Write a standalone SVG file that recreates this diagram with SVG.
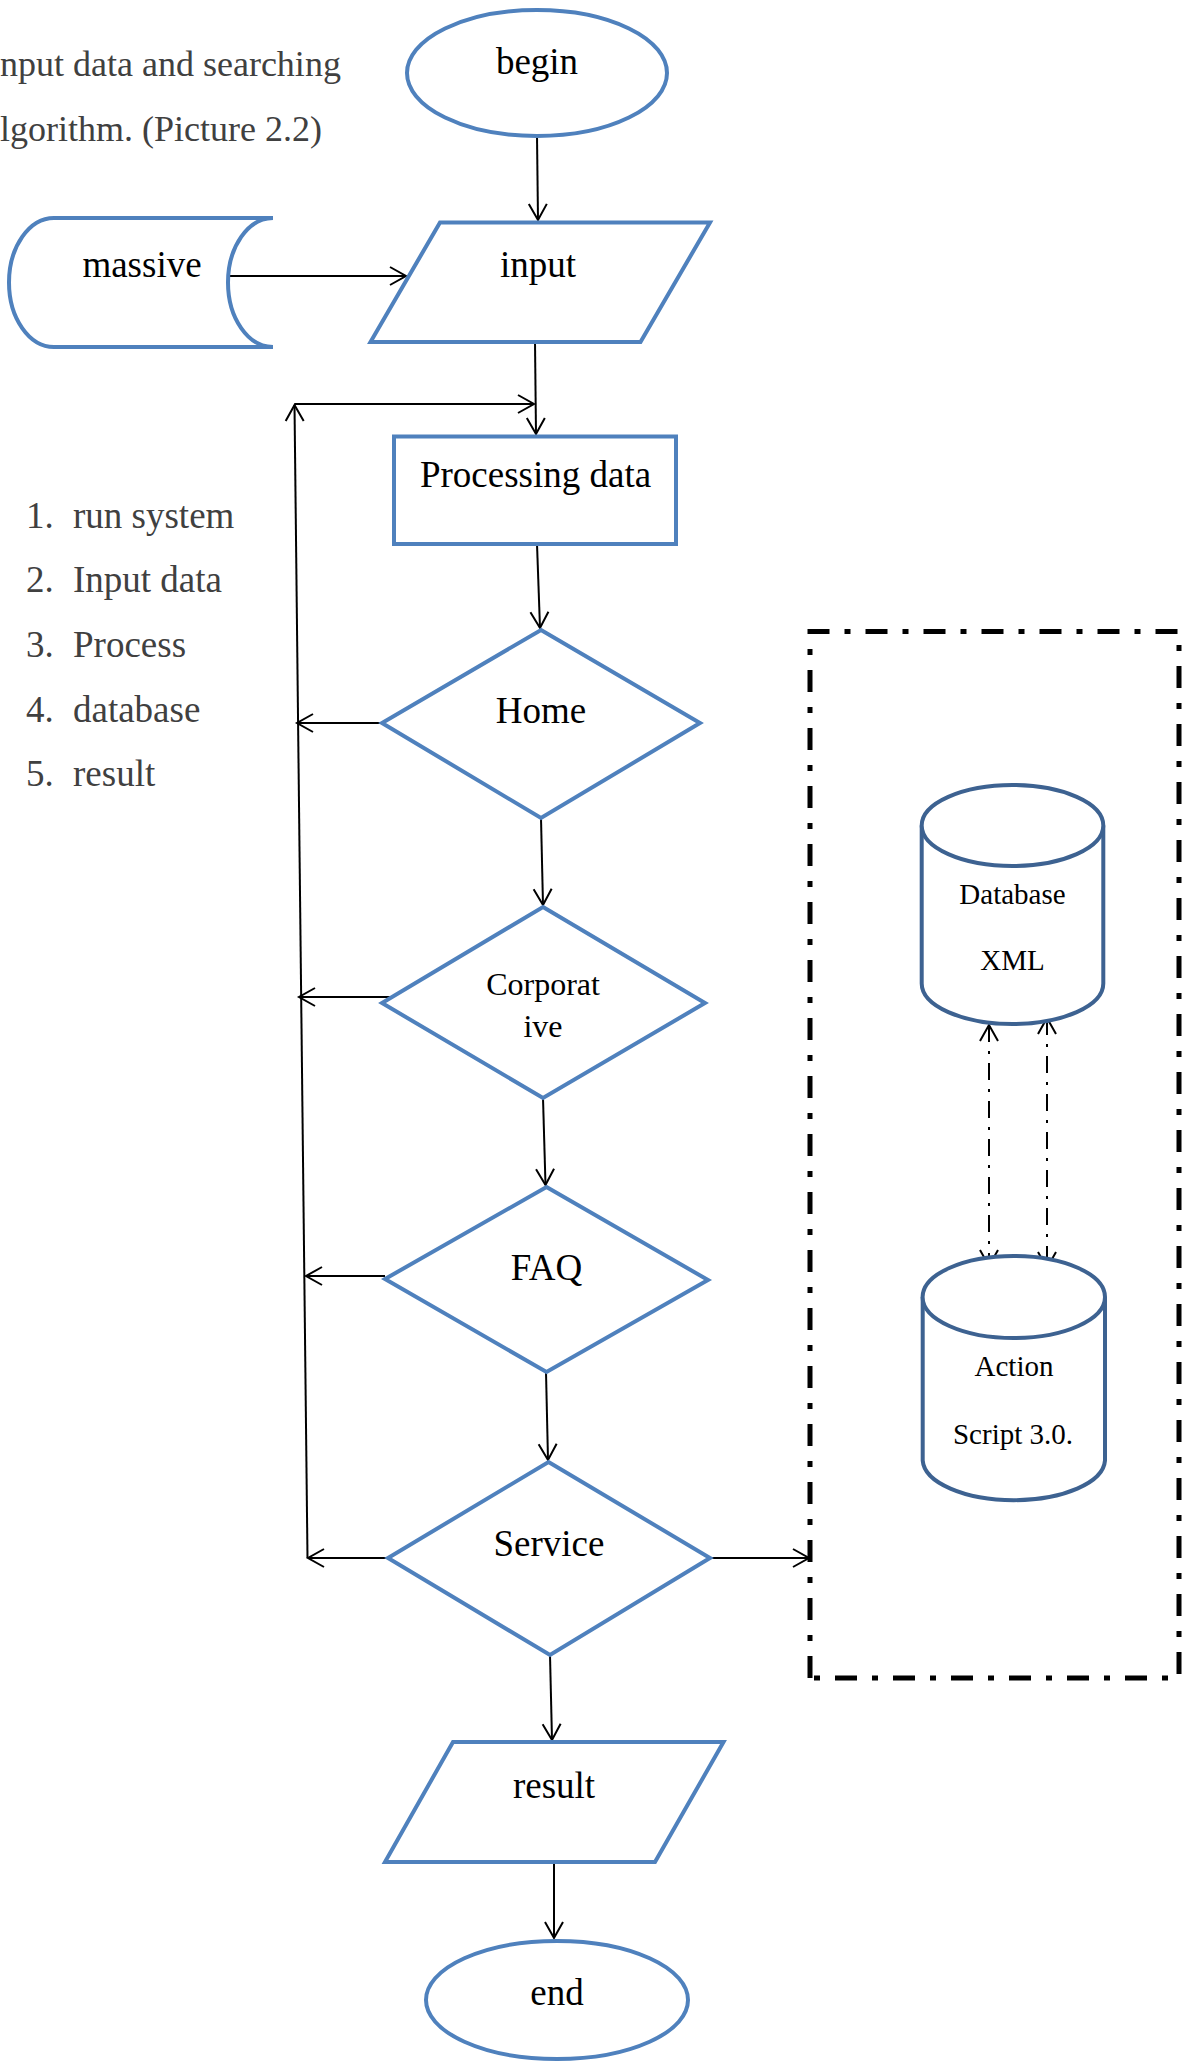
<svg xmlns="http://www.w3.org/2000/svg" width="1187" height="2064" viewBox="0 0 1187 2064">
  <style>
    .shape { fill: #ffffff; stroke: #4f81bd; stroke-width: 4; stroke-linejoin: miter; }
    .drum { fill: #ffffff; stroke: #3d6291; stroke-width: 4; }
    .lbl { font-family: "Liberation Serif", "Times New Roman", serif; font-size: 37px; fill: #000000; text-anchor: middle; }
    .small { font-size: 29px; }
    .note { font-family: "Liberation Serif", "Times New Roman", serif; font-size: 37px; fill: #404040; }
    .head { font-size: 36px; }
    .wire { fill: none; stroke: #000000; stroke-width: 2; }
    .link { fill: none; stroke: #000000; stroke-width: 2; stroke-dasharray: 17 9 3 9; }
    .frame { fill: none; stroke: #000000; stroke-width: 5; stroke-dasharray: 22 15 6 15; }
  </style>
  <defs>
    <marker id="open" viewBox="-19 -12 22 24" refX="0" refY="0" markerWidth="22" markerHeight="24" markerUnits="userSpaceOnUse" orient="auto-start-reverse">
      <path d="M -16 -9 L 0 0 L -16 9" fill="none" stroke="#000000" stroke-width="2"/>
    </marker>
  </defs>

  <rect width="1187" height="2064" fill="#ffffff"/>

  <!-- intro text and step list -->
  <g id="notes">
    <text class="note head" x="0" y="76">nput data and searching</text>
    <text class="note head" x="0" y="141">lgorithm. (Picture 2.2)</text>
    <text class="note" x="26" y="528">1.</text><text class="note" x="73" y="528">run system</text>
    <text class="note" x="26" y="592">2.</text><text class="note" x="73" y="592">Input data</text>
    <text class="note" x="26" y="657">3.</text><text class="note" x="73" y="657">Process</text>
    <text class="note" x="26" y="722">4.</text><text class="note" x="73" y="722">database</text>
    <text class="note" x="26" y="786">5.</text><text class="note" x="73" y="786">result</text>
  </g>

  <!-- connectors -->
  <g id="connectors">
    <line class="wire" x1="537" y1="136" x2="538" y2="220" marker-end="url(#open)"/>
    <line class="wire" x1="230" y1="276" x2="406" y2="276" marker-end="url(#open)"/>
    <line class="wire" x1="535" y1="342" x2="536" y2="434" marker-end="url(#open)"/>
    <line class="wire" x1="307.5" y1="1558" x2="294.5" y2="405" marker-end="url(#open)"/>
    <line class="wire" x1="294.5" y1="404" x2="534" y2="404" marker-end="url(#open)"/>
    <line class="wire" x1="537" y1="544" x2="540" y2="628" marker-end="url(#open)"/>
    <line class="wire" x1="382" y1="723" x2="297" y2="723" marker-end="url(#open)"/>
    <line class="wire" x1="541" y1="818" x2="543" y2="905" marker-end="url(#open)"/>
    <line class="wire" x1="390" y1="997" x2="299" y2="997" marker-end="url(#open)"/>
    <line class="wire" x1="543" y1="1098" x2="545.5" y2="1185" marker-end="url(#open)"/>
    <line class="wire" x1="385" y1="1276" x2="306" y2="1276" marker-end="url(#open)"/>
    <line class="wire" x1="546" y1="1372" x2="548" y2="1460" marker-end="url(#open)"/>
    <line class="wire" x1="388" y1="1558" x2="308" y2="1558" marker-end="url(#open)"/>
    <line class="wire" x1="710" y1="1558" x2="809" y2="1558" marker-end="url(#open)"/>
    <line class="wire" x1="550" y1="1655" x2="552" y2="1740" marker-end="url(#open)"/>
    <line class="wire" x1="554" y1="1862" x2="554" y2="1938" marker-end="url(#open)"/>
    <line class="link" x1="989" y1="1025" x2="989" y2="1266" marker-start="url(#open)" marker-end="url(#open)"/>
    <line class="link" x1="1047" y1="1018" x2="1047" y2="1268" marker-start="url(#open)" marker-end="url(#open)"/>
  </g>

  <!-- dash-dot frame round the data layer -->
  <g id="frame">
    <path class="frame" d="M 810 1678 L 810 631.5 L 1179 631.5 L 1179 1678 Z"/>
  </g>

  <g id="begin">
    <ellipse class="shape" cx="537" cy="73" rx="130" ry="63"/>
    <text class="lbl" x="537" y="74">begin</text>
  </g>

  <g id="massive">
    <path class="shape" d="M 54 218 L 273 218 A 45 64.5 0 0 0 273 347 L 54 347 A 45 64.5 0 0 1 54 218 Z"/>
    <text class="lbl" x="142" y="277">massive</text>
  </g>

  <g id="input">
    <polygon class="shape" points="440,222.5 710,222.5 640.5,342 370.5,342"/>
    <text class="lbl" x="538" y="277">input</text>
  </g>

  <g id="processing">
    <rect class="shape" x="394" y="436.5" width="282" height="107.5"/>
    <text class="lbl" x="535.5" y="487">Processing data</text>
  </g>

  <g id="home">
    <polygon class="shape" points="541,630 700,723 541,818 382,723"/>
    <text class="lbl" x="541" y="723">Home</text>
  </g>

  <g id="corporative">
    <polygon class="shape" points="543,907 705,1003 543,1098 382,1003"/>
    <text class="lbl" x="543" y="995" style="font-size:32px">Corporat</text>
    <text class="lbl" x="543" y="1037" style="font-size:32px">ive</text>
  </g>

  <g id="faq">
    <polygon class="shape" points="546.5,1187 708,1280 546.5,1372 385,1279"/>
    <text class="lbl" x="546.5" y="1280">FAQ</text>
  </g>

  <g id="service">
    <polygon class="shape" points="548.5,1462 710,1558 550,1655 388,1558"/>
    <text class="lbl" x="549" y="1556">Service</text>
  </g>

  <g id="result">
    <polygon class="shape" points="453,1742 723.5,1742 655,1862 385,1862"/>
    <text class="lbl" x="554" y="1798">result</text>
  </g>

  <g id="end">
    <ellipse class="shape" cx="557" cy="2000" rx="131" ry="59"/>
    <text class="lbl" x="557" y="2005">end</text>
  </g>

  <g id="database-xml">
    <path class="drum" d="M 921.7 825.5 L 921.7 983.5 A 90.8 40.5 0 0 0 1103.3 983.5 L 1103.3 825.5"/>
    <ellipse class="drum" cx="1012.5" cy="825.5" rx="90.8" ry="40.5"/>
    <text class="lbl small" x="1012.5" y="903.5">Database</text>
    <text class="lbl small" x="1012.5" y="969.5">XML</text>
  </g>

  <g id="action-script">
    <path class="drum" d="M 922.7 1297 L 922.7 1460.5 A 91.2 41 0 0 0 1105 1460.5 L 1105 1297"/>
    <ellipse class="drum" cx="1013.8" cy="1297" rx="91.2" ry="41"/>
    <text class="lbl small" x="1014" y="1375.5">Action</text>
    <text class="lbl small" x="1013" y="1443.5">Script 3.0.</text>
  </g>
</svg>
